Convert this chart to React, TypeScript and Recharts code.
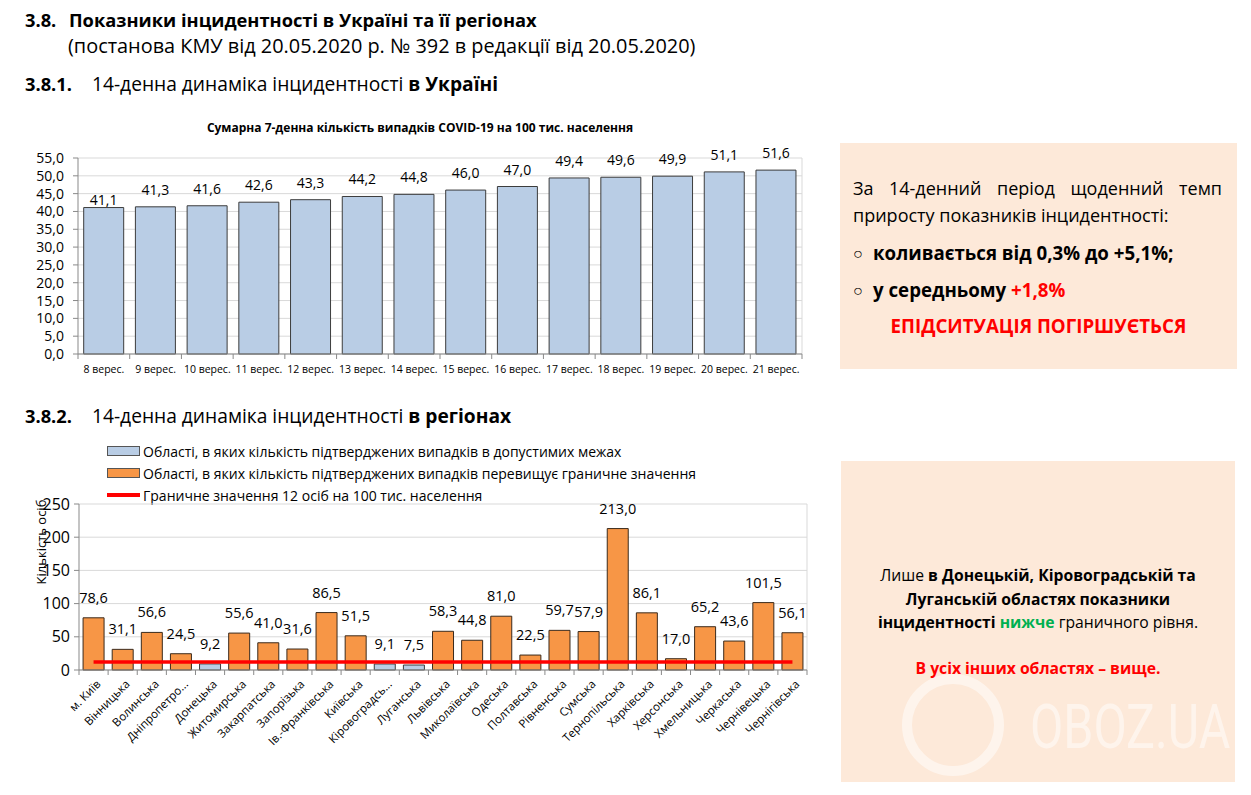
import React from "react";
import {
  BarChart,
  Bar,
  XAxis,
  YAxis,
  CartesianGrid,
  LabelList,
  ReferenceLine,
} from "recharts";

const FONT = "'Open Sans', 'Noto Sans', sans-serif";
const GRID = "#d9d9d9";
const AXIS = "#898989";
const BLUE = "#b9cde5";
const ORANGE = "#f79646";
const RED = "#ff0000";
const PEACH = "#fde9d9";

// 3.8.1 — Україна, 14 днів
const days = [
  "8 верес.", "9 верес.", "10 верес.", "11 верес.", "12 верес.", "13 верес.", "14 верес.",
  "15 верес.", "16 верес.", "17 верес.", "18 верес.", "19 верес.", "20 верес.", "21 верес.",
];
const incidence7d = [41.1, 41.3, 41.6, 42.6, 43.3, 44.2, 44.8, 46.0, 47.0, 49.4, 49.6, 49.9, 51.1, 51.6];
const dayTicks = [0, 5, 10, 15, 20, 25, 30, 35, 40, 45, 50, 55];

// 3.8.2 — регіони
const regions = [
  "м. Київ", "Вінницька", "Волинська", "Дніпропетро...", "Донецька", "Житомирська",
  "Закарпатська", "Запорізька", "Ів.-Франківська", "Київська", "Кіровоградсь...", "Луганська",
  "Львівська", "Миколаївська", "Одеська", "Полтавська", "Рівненська", "Сумська",
  "Тернопільська", "Харківська", "Херсонська", "Хмельницька", "Черкаська", "Чернівецька",
  "Чернігівська",
];
const withinLimit = [
  null, null, null, null, 9.2, null, null, null, null, null, 9.1, 7.5,
  null, null, null, null, null, null, null, null, null, null, null, null, null,
];
const aboveLimit = [
  78.6, 31.1, 56.6, 24.5, null, 55.6, 41.0, 31.6, 86.5, 51.5, null, null,
  58.3, 44.8, 81.0, 22.5, 59.7, 57.9, 213.0, 86.1, 17.0, 65.2, 43.6, 101.5, 56.1,
];
const regionTicks = [0, 50, 100, 150, 200, 250];
const THRESHOLD = 12;

const legendItems = [
  { kind: "bar", color: BLUE, text: "Області, в яких кількість підтверджених випадків в допустимих межах" },
  { kind: "bar", color: ORANGE, text: "Області, в яких кількість підтверджених випадків перевищує граничне значення" },
  { kind: "line", color: RED, text: "Граничне значення 12 осіб на 100 тис. населення" },
];

const dayData = days.map((d, i) => ({ day: d, value: incidence7d[i] }));
const regionData = regions.map((r, i) => ({ region: r, within: withinLimit[i], above: aboveLimit[i] }));

const fmt = (v: number) => v.toFixed(1).replace(".", ",");

const DayTick = (props: any) => {
  const { x, y, payload, index, visibleTicksCount } = props;
  const half = payload?.offset ?? 0;
  return (
    <g>
      <line x1={x - half} x2={x - half} y1={y} y2={y + 5} stroke={AXIS} />
      {index === visibleTicksCount - 1 && (
        <line x1={x + half} x2={x + half} y1={y} y2={y + 5} stroke={AXIS} />
      )}
      <text x={x} y={y + 19} textAnchor="middle" fontSize={10.5} fontFamily={FONT} fill="#000">
        {payload.value}
      </text>
    </g>
  );
};

const RegionTick = (props: any) => {
  const { x, y, payload, index, visibleTicksCount } = props;
  const half = payload?.offset ?? 0;
  return (
    <g>
      <line x1={x - half} x2={x - half} y1={y} y2={y + 5} stroke={AXIS} />
      {index === visibleTicksCount - 1 && (
        <line x1={x + half} x2={x + half} y1={y} y2={y + 5} stroke={AXIS} />
      )}
      <g transform={`translate(${x + 5},${y + 12})`}>
        <text transform="rotate(-45)" textAnchor="end" dy="0.35em" fontSize={11.5} fontFamily={FONT} fill="#000">
          {payload.value}
        </text>
      </g>
    </g>
  );
};

const dayLabel = (p: any) => {
  const { x, y, width, value, index } = p;
  if (value == null) return null;
  const lift = index === 0 ? 3 : 12;
  return (
    <text x={Number(x) + Number(width) / 2} y={Number(y) - lift} textAnchor="middle" fontSize={14} fontFamily={FONT} fill="#000">
      {fmt(Number(value))}
    </text>
  );
};

const regionLabel = (p: any) => {
  const { x, y, width, value } = p;
  if (value == null) return null;
  return (
    <text x={Number(x) + Number(width) / 2} y={Number(y) - 15} textAnchor="middle" fontSize={14.5} fontFamily={FONT} fill="#000">
      {fmt(Number(value))}
    </text>
  );
};

const rightEdge = ({ offset }: any) => [offset.left + offset.width];

function UkraineChart() {
  return (
    <BarChart
      width={800}
      height={240}
      data={dayData}
      margin={{ top: 18, right: 18, left: 0, bottom: 0 }}
      barCategoryGap="11%"
    >
      <CartesianGrid stroke={GRID} verticalCoordinatesGenerator={rightEdge} />
      <XAxis
        dataKey="day"
        height={26}
        interval={0}
        tickSize={0}
        tickMargin={0}
        axisLine={{ stroke: AXIS }}
        tick={<DayTick />}
      />
      <YAxis
        width={58}
        domain={[0, 55]}
        ticks={dayTicks}
        interval={0}
        tickSize={5}
        tickMargin={9}
        axisLine={{ stroke: AXIS }}
        tickLine={{ stroke: AXIS }}
        tickFormatter={fmt}
        tick={{ fontSize: 14, fill: "#000", fontFamily: FONT }}
      />
      <Bar dataKey="value" fill={BLUE} stroke="#3c3c3c" strokeWidth={1} isAnimationActive={false}>
        <LabelList dataKey="value" content={dayLabel} />
      </Bar>
    </BarChart>
  );
}

function RegionsChart() {
  return (
    <BarChart
      width={800}
      height={355}
      data={regionData}
      margin={{ top: 64, right: 13, left: 0, bottom: 0 }}
      barCategoryGap="14%"
    >
      <CartesianGrid stroke={GRID} verticalCoordinatesGenerator={rightEdge} />
      <XAxis
        dataKey="region"
        height={125}
        interval={0}
        tickSize={0}
        tickMargin={0}
        axisLine={{ stroke: AXIS }}
        tick={<RegionTick />}
      />
      <YAxis
        width={59}
        domain={[0, 250]}
        ticks={regionTicks}
        interval={0}
        tickSize={5}
        tickMargin={4}
        axisLine={{ stroke: AXIS }}
        tickLine={{ stroke: AXIS }}
        tick={{ fontSize: 16, fill: "#000", fontFamily: FONT }}
        label={{
          content: ({ viewBox }: any) => (
            <text
              transform={`translate(${viewBox.x + 21},${viewBox.y + 38}) rotate(-90)`}
              textAnchor="middle"
              dy="0.35em"
              fontSize={13}
              fontFamily={FONT}
              fill="#000"
            >
              Кількість осіб
            </text>
          ),
        }}
      />
      <Bar dataKey="within" stackId="r" fill={BLUE} stroke="#3c3c3c" isAnimationActive={false}>
        <LabelList dataKey="within" content={regionLabel} />
      </Bar>
      <Bar dataKey="above" stackId="r" fill={ORANGE} stroke="#3a2a1c" isAnimationActive={false}>
        <LabelList dataKey="above" content={regionLabel} />
      </Bar>
      <ReferenceLine
        segment={[
          { x: regions[0], y: THRESHOLD },
          { x: regions[regions.length - 1], y: THRESHOLD },
        ]}
        stroke={RED}
        strokeWidth={3.5}
      />
    </BarChart>
  );
}

const abs = (left: number, top: number, extra: React.CSSProperties = {}): React.CSSProperties => ({
  position: "absolute",
  left,
  top,
  whiteSpace: "nowrap",
  ...extra,
});

export default function App() {
  return (
    <div
      style={{
        position: "absolute",
        left: 0,
        top: 0,
        width: 1251,
        height: 795,
        background: "#fff",
        fontFamily: FONT,
        color: "#000",
        overflow: "hidden",
      }}
    >
      {/* headings */}
      <div style={abs(25, 8, { fontSize: 18.3, fontWeight: 700, lineHeight: "24px" })}>3.8.</div>
      <div style={abs(69, 8, { fontSize: 18.3, fontWeight: 700, lineHeight: "24px" })}>
        Показники інцидентності в Україні та її регіонах
      </div>
      <div style={abs(68, 34, { fontSize: 19.9, lineHeight: "24px" })}>
        (постанова КМУ від 20.05.2020 р. № 392 в редакції від 20.05.2020)
      </div>
      <div style={abs(25, 72, { fontSize: 18.3, fontWeight: 700, lineHeight: "24px" })}>3.8.1.</div>
      <div style={abs(92, 72, { fontSize: 19.2, lineHeight: "24px" })}>
        14-денна динаміка інцидентності <b>в Україні</b>
      </div>

      <div style={abs(0, 120, { width: 840, textAlign: "center", fontSize: 12, fontWeight: 700, lineHeight: "16px" })}>
        Сумарна 7-денна кількість випадків COVID-19 на 100 тис. населення
      </div>
      <div style={abs(20, 140)}>
        <UkraineChart />
      </div>

      {/* box 1 */}
      <div style={abs(840, 143, { width: 397, height: 226, background: PEACH })} />
      <div style={abs(853, 176, { width: 369, fontSize: 18, lineHeight: "24px", textAlign: "justify", textAlignLast: "justify", whiteSpace: "normal" })}>
        За 14-денний період щоденний темп
      </div>
      <div style={abs(853, 203, { fontSize: 18, lineHeight: "24px" })}>приросту показників інцидентності:</div>
      <div style={abs(853, 241, { fontSize: 16, lineHeight: "24px" })}>○</div>
      <div style={abs(873, 241, { fontSize: 18.7, fontWeight: 700, lineHeight: "24px" })}>коливається від 0,3% до +5,1%;</div>
      <div style={abs(853, 278, { fontSize: 16, lineHeight: "24px" })}>○</div>
      <div style={abs(873, 278, { fontSize: 18.7, fontWeight: 700, lineHeight: "24px" })}>
        у середньому <span style={{ color: RED }}>+1,8%</span>
      </div>
      <div style={abs(840, 314, { width: 397, textAlign: "center", fontSize: 18.7, fontWeight: 700, lineHeight: "24px", color: RED })}>
        ЕПІДСИТУАЦІЯ ПОГІРШУЄТЬСЯ
      </div>

      {/* 3.8.2 */}
      <div style={abs(25, 404, { fontSize: 18.3, fontWeight: 700, lineHeight: "24px" })}>3.8.2.</div>
      <div style={abs(92, 404, { fontSize: 19.2, lineHeight: "24px" })}>
        14-денна динаміка інцидентності <b>в регіонах</b>
      </div>

      <div style={abs(107, 440, { display: "flex", flexDirection: "column" })}>
        {legendItems.map((it) => (
          <div key={it.text} style={{ display: "flex", alignItems: "center", height: 22 }}>
            {it.kind === "bar" ? (
              <div style={{ width: 31, height: 8, background: it.color, border: "1px solid #555" }} />
            ) : (
              <div style={{ width: 33, height: 4, background: it.color }} />
            )}
            <span style={{ marginLeft: 3, fontSize: 14 }}>{it.text}</span>
          </div>
        ))}
      </div>
      <div style={abs(20, 440)}>
        <RegionsChart />
      </div>

      {/* box 2 */}
      <div style={abs(841, 461, { width: 394, height: 321, background: PEACH })} />
      <svg style={abs(841, 461)} width={394} height={321}>
        <circle cx={112} cy={264} r={46} fill="none" stroke="#ffffff" strokeOpacity={0.5} strokeWidth={10} />
        <text transform="translate(189,287) scale(0.78,1)" x={0} y={0} fontSize={62} fontFamily="Roboto, sans-serif" fill="#ffffff" fillOpacity={0.5}>
          OBOZ.UA
        </text>
      </svg>
      <div style={abs(841, 564, { width: 394, textAlign: "center", fontSize: 15.7, lineHeight: "23.5px", whiteSpace: "normal" })}>
        <div>
          Лише <b>в Донецькій, Кіровоградській та</b>
        </div>
        <div>
          <b>Луганській областях показники</b>
        </div>
        <div>
          <b>інцидентності</b> <b style={{ color: "#00b050" }}>нижче</b> граничного рівня.
        </div>
        <div style={{ marginTop: 22, color: RED, fontWeight: 700 }}>В усіх інших областях – вище.</div>
      </div>
    </div>
  );
}
